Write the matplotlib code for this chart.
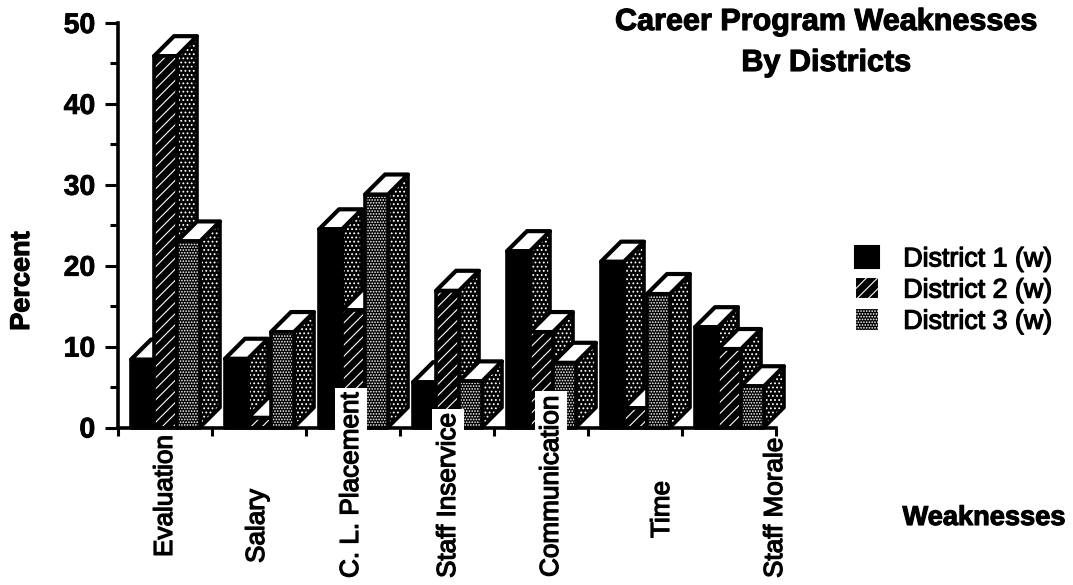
import matplotlib
matplotlib.use("Agg")
import matplotlib.pyplot as plt
import matplotlib.patheffects as pe
from matplotlib.patches import Polygon, Patch
import numpy as np

categories = ["Evaluation", "Salary", "C. L. Placement", "Staff Inservice", "Communication", "Time", "Staff Morale"]
district_1 = [8.4, 8.5, 24.5, 5.6, 21.8, 20.5, 12.4]
district_2 = [45.9, 1.2, 14.5, 16.9, 11.8, 2.4, 9.7]
district_3 = [23.0, 11.8, 28.8, 5.7, 8.0, 16.5, 5.1]
series_names = ["District 1 (w)", "District 2 (w)", "District 3 (w)"]
y_ticks = [0, 10, 20, 30, 40, 50]

W, H = 1073, 585
plt.rcParams["font.family"] = ["Liberation Sans", "DejaVu Sans"]
plt.rcParams["hatch.linewidth"] = 0.8
fig = plt.figure(figsize=(W / 100, H / 100), dpi=100)
L, R, T, B = 118, 776, 23, 427.5
ax = fig.add_axes([L / W, 1 - B / H, (R - L) / W, (B - T) / H])
ax.set_xlim(0, 7)
ax.set_ylim(0, 50)
ax.patch.set_alpha(0)

px_x = 7 / (R - L)
px_y = 50 / (B - T)
bar_w = 23 * px_x
start = 13 * px_x
dx, dy = 20 * px_x, 20 * px_y

front_styles = [dict(facecolor="black", edgecolor="black", hatch=None),
                dict(facecolor="black", edgecolor="white", hatch="///"),
                dict(facecolor="black", edgecolor="white", hatch="......")]
side_style = dict(facecolor="black", edgecolor="white", hatch="....")
z = 2
for s, vals in enumerate([district_1, district_2, district_3]):
    for i, v in enumerate(vals):
        x0 = i + start + s * bar_w
        x1 = x0 + bar_w
        front = [(x0, 0), (x1, 0), (x1, v), (x0, v)]
        side = [(x1, 0), (x1 + dx, dy), (x1 + dx, v + dy), (x1, v)]
        top = [(x0, v), (x1, v), (x1 + dx, v + dy), (x0 + dx, v + dy)]
        ax.add_patch(Polygon(side, closed=True, linewidth=0, zorder=z, clip_on=False, **side_style))
        ax.add_patch(Polygon(side, closed=True, fill=False, edgecolor="black", linewidth=2.6, zorder=z, clip_on=False, joinstyle="round"))
        ax.add_patch(Polygon(top, closed=True, facecolor="white", edgecolor="black", linewidth=3.0, zorder=z, clip_on=False, joinstyle="round"))
        ax.add_patch(Polygon(front, closed=True, linewidth=0, zorder=z, clip_on=False, **front_styles[s]))
        ax.add_patch(Polygon(front, closed=True, fill=False, edgecolor="black", linewidth=2.6, zorder=z, clip_on=False, joinstyle="round"))
        z += 1

for sp in ["top", "right"]:
    ax.spines[sp].set_visible(False)
for sp in ["left", "bottom"]:
    ax.spines[sp].set_linewidth(2.6)
    ax.spines[sp].set_zorder(1000)
ax.set_yticks(y_ticks)
ax.set_yticks(np.arange(5, 50, 10), minor=True)
ax.set_xticks(np.arange(0, 8))
ax.set_xticklabels([])
ax.tick_params(axis="y", which="major", length=9.4, width=2.2, labelsize=20.4, pad=7)
ax.tick_params(axis="y", which="minor", length=5.8, width=2.2)
ax.tick_params(axis="x", which="major", length=6, width=2.2)
for lab in ax.get_yticklabels():
    lab.set_fontweight("bold")
    lab.set_path_effects([pe.withStroke(linewidth=0.6, foreground="black")])

def fx(p): return p / W
def fy(p): return 1 - p / H

bold_ish = [pe.withStroke(linewidth=0.9, foreground="black")]
heavy = [pe.withStroke(linewidth=0.8, foreground="black")]
label_x = [165, 257, 351, 448, 551, 662, 775]
label_bottom = [557, 563, 578, 578, 577, 538, 578]
boxed = ["C. L. Placement", "Staff Inservice", "Communication"]
for name, px, pb in zip(categories, label_x, label_bottom):
    box = dict(facecolor="white", edgecolor="none", pad=3) if name in boxed else None
    fig.text(fx(px), fy(pb), name, rotation=90, ha="center", va="bottom", fontsize=18.8, zorder=2000,
             bbox=box, path_effects=bold_ish)

fig.text(fx(826), fy(22), "Career Program Weaknesses", ha="center", va="center", fontsize=22, fontweight="bold", path_effects=heavy)
fig.text(fx(826), fy(63), "By Districts", ha="center", va="center", fontsize=22, fontweight="bold", path_effects=heavy)
fig.text(fx(22), fy(281), "Percent", rotation=90, ha="center", va="center", fontsize=19.5, fontweight="bold", path_effects=heavy)
fig.text(fx(984), fy(518), "Weaknesses", ha="center", va="center", fontsize=19.6, fontweight="bold", path_effects=heavy)

handles = [Patch(linewidth=1.5, **front_styles[k]) for k in range(3)]
leg = fig.legend(handles, series_names, loc="upper left", bbox_to_anchor=(fx(855), fy(246)),
                 frameon=False, fontsize=19.3, handlelength=0.9, handleheight=0.9,
                 labelspacing=0.18, handletextpad=0.9, borderpad=0, borderaxespad=0)
for t in leg.get_texts():
    t.set_path_effects(bold_ish)

fig.savefig("out.png", dpi=100)
